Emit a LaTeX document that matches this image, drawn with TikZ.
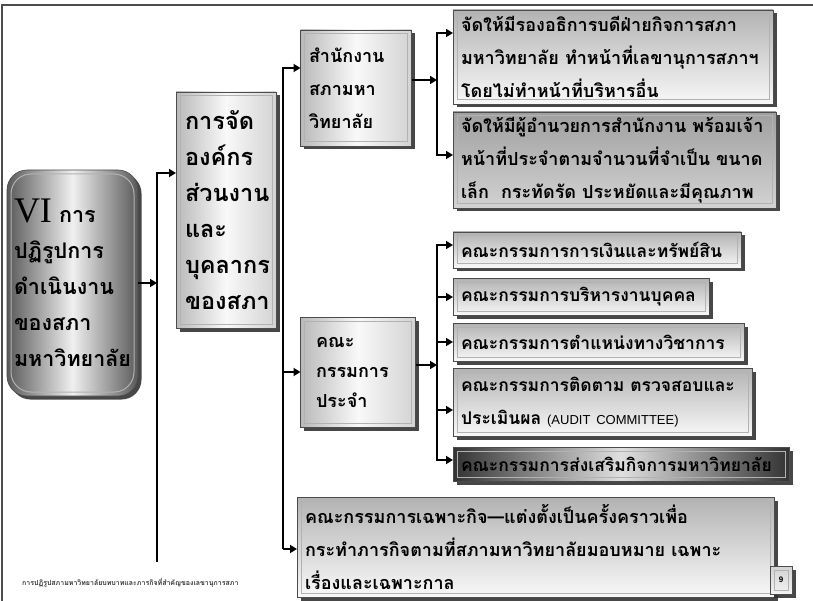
\documentclass[tikz,border=0pt]{standalone}
\usepackage{fontspec}
\usetikzlibrary{arrows.meta,shadows}
\newfontfamily\thai[Script=Thai]{Loma}
\newfontfamily\lserif{Liberation Serif}
\newfontfamily\lsans{Liberation Sans}
\begin{document}
\begin{tikzpicture}[x=1pt,y=-1pt,
  ln/.style={line width=2.6pt, black},
  arr/.style={ln, -{Triangle[length=7pt,width=8pt]}},
  box/.style={draw=black!70, line width=0.6pt, inner sep=0pt, outer sep=0pt, anchor=center,
     drop shadow={shadow xshift=3.5pt, shadow yshift=-3.5pt, fill=black!80, opacity=0.9},
     path picture={\draw[gray!60, line width=1pt] ([shift={(4pt,4pt)}]path picture bounding box.south west) rectangle ([shift={(-4pt,-4pt)}]path picture bounding box.north east);}},
  lightbox/.style={box, top color=gray!60, bottom color=gray!5},
  midbox/.style={box, top color=gray!75, bottom color=gray!35},
  darkbox/.style={box, left color=black!80, right color=black!80, middle color=gray!25},
  pillar/.style={box, left color=gray!55, right color=gray!35, middle color=gray!5},
  tA/.style={font=\thai\bfseries\fontsize{17.5}{33}\selectfont, align=left, text width=#1},
  tB/.style={font=\thai\bfseries\fontsize{18}{33}\selectfont, align=left, text width=#1}
]
\useasboundingbox (0,0) rectangle (813,601);
\fill[white] (0,0) rectangle (813,601);
% slide frame
\draw[black!70, line width=1.2pt] (2,601) -- (2,5) -- (813,5);

% left rounded box
\node[box, rounded corners=20pt, left color=black!65, right color=black!65, middle color=gray!12,
      minimum width=131, minimum height=226,
      font=\thai\bfseries\fontsize{21.5}{36}\selectfont, align=left, text width=117] (L) at (72.5,283)
  {{\lserif\mdseries\fontsize{36}{30}\selectfont VI} การ\\ปฏิรูปการ\\ดำเนินงาน\\ของสภา\\มหาวิทยาลัย};

% middle pillar
\node[pillar, minimum width=100, minimum height=236,
      font=\thai\bfseries\fontsize{23.5}{36}\selectfont, align=left, text width=82] (M) at (226,210)
  {การจัด\\องค์กร\\ส่วนงาน\\และ\\บุคลากร\\ของสภา};

% second level
\node[pillar, minimum width=111, minimum height=116, tB=94] (S) at (356,88)
  {สำนักงาน\\สภามหา\\วิทยาลัย};
\node[pillar, minimum width=115, minimum height=110, tB=84,
      font=\thai\bfseries\fontsize{18}{30}\selectfont] (P) at (358,372)
  {คณะ\\กรรมการ\\ประจำ};

% top right boxes
\node[lightbox, minimum width=320, minimum height=94, tB=304] (T1) at (613,57)
  {จัดให้มีรองอธิการบดีฝ่ายกิจการสภา\\มหาวิทยาลัย~ทำหน้าที่เลขานุการสภาฯ\\โดยไม่ทำหน้าที่บริหารอื่น};
\node[midbox, minimum width=323, minimum height=96, tB=307] (T2) at (614.5,160)
  {จัดให้มีผู้อำนวยการสำนักงาน~พร้อมเจ้า\\หน้าที่ประจำตามจำนวนที่จำเป็น~ขนาด\\เล็ก~~กระทัดรัด~ประหยัดและมีคุณภาพ};

% committees
\node[lightbox, minimum width=288, minimum height=36, tA=272] (A) at (597,250)
  {คณะกรรมการการเงินและทรัพย์สิน};
\node[lightbox, minimum width=256, minimum height=37, tA=240] (B) at (581,297)
  {คณะกรรมการบริหารงานบุคคล};
\node[lightbox, minimum width=291, minimum height=38, tA=275] (C) at (598.5,342)
  {คณะกรรมการตำแหน่งทางวิชาการ};
\node[lightbox, minimum width=299, minimum height=68, tA=283] (D) at (602.5,402)
  {คณะกรรมการติดตาม~ตรวจสอบและ\\ประเมินผล~{\lsans\mdseries\fontsize{13}{13}\selectfont (AUDIT~COMMITTEE)}};
\node[darkbox, minimum width=336, minimum height=34, tA=320] (E) at (621,464)
  {คณะกรรมการส่งเสริมกิจการมหาวิทยาลัย};

% bottom box
\node[lightbox, minimum width=477, minimum height=100, tB=461] (F) at (535.5,547)
  {คณะกรรมการเฉพาะกิจ—แต่งตั้งเป็นครั้งคราวเพื่อ\\กระทำภารกิจตามที่สภามหาวิทยาลัยมอบหมาย~เฉพาะ\\เรื่องและเฉพาะกาล};

% page number
\node[box, top color=gray!35, bottom color=gray!10, minimum width=22, minimum height=28,
      font=\lsans\bfseries\fontsize{8}{8}\selectfont] (pg) at (781,580) {9};

% footer
\node[anchor=west, inner sep=0pt, text=black!80, font=\thai\bfseries\fontsize{7}{7}\selectfont] (foot) at (22,583)
  {การปฏิรูปสภามหาวิทยาลัยบทบาทและภารกิจที่สำคัญของเลขานุการสภา};

% bus coordinates
\coordinate (b1t) at (157,173);
\coordinate (b1b) at (157,562);
\coordinate (b2t) at (283,68);
\coordinate (b2b) at (283,549);
\coordinate (b3t) at (437,33);
\coordinate (b3b) at (437,155);
\coordinate (b4t) at (437,245);
\coordinate (b4b) at (437,460);

% connectors
\draw[arr] (L.east) -- (L.east -| b1t);
\draw[arr] (b1b) -- (b1t) -- (b1t -| M.west);

\draw[arr] (b2b) -- (b2t) -- (b2t -| S.west);
\draw[arr] (b2b |- P.west) -- (P.west);
\draw[arr] (b2b) -- (b2b -| F.west);

\draw[arr] ([yshift=8pt]S.east) -- ([yshift=8pt]S.east -| b3t);
\draw[arr] (b3b) -- (b3t) -- (b3t -| T1.west);
\draw[arr] (b3t) -- (b3b) -- (b3b -| T2.west);

\draw[arr] ([yshift=7pt]P.east) -- ([yshift=7pt]P.east -| b4t);
\draw[arr] (b4b) -- (b4t) -- (b4t -| A.west);
\draw[arr] (b4t |- B.west) -- (B.west);
\draw[arr] (b4t |- C.west) -- (C.west);
\draw[arr] ([yshift=-8pt]b4t |- D.west) -- ([yshift=-8pt]D.west);
\draw[arr] (b4t) -- (b4b) -- (b4b -| E.west);
\end{tikzpicture}
\end{document}
